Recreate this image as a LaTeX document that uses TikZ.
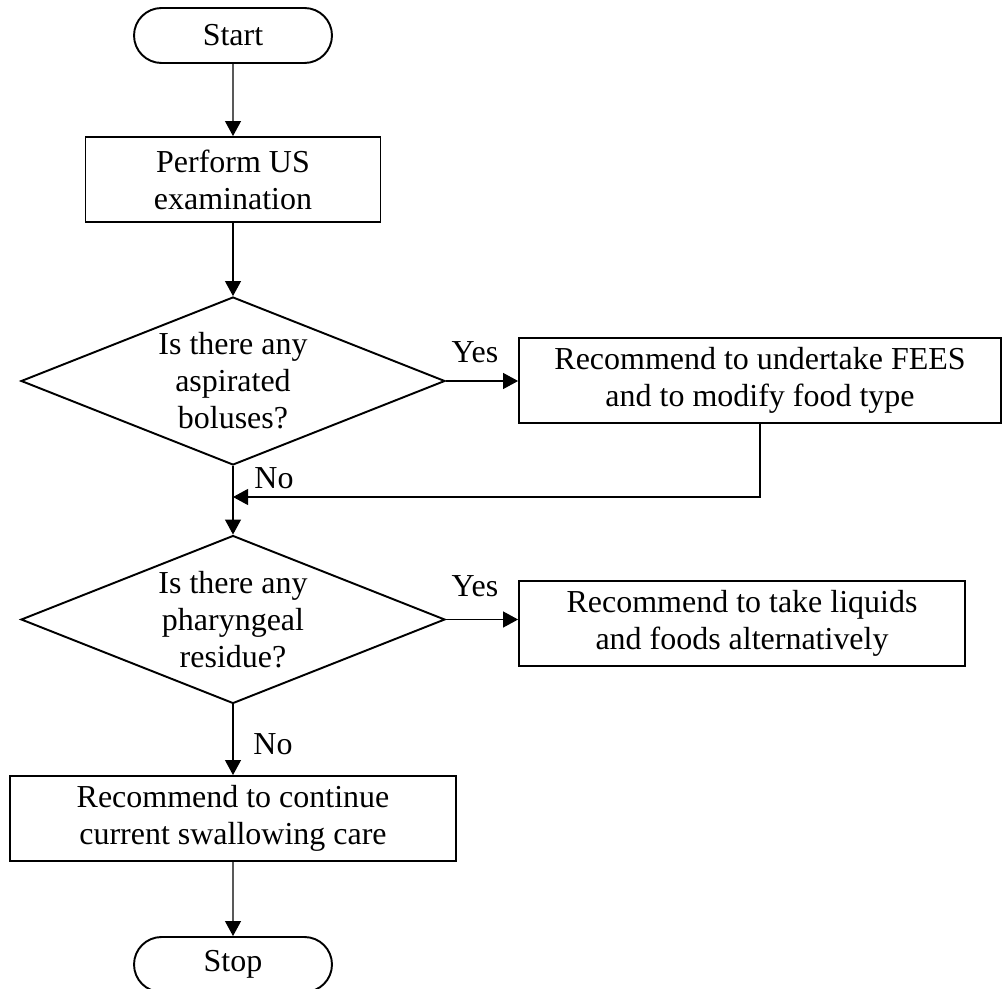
\documentclass[tikz,border=0pt]{standalone}
\usepackage{fontspec}
\setmainfont{Liberation Serif}
\usetikzlibrary{shapes.misc, shapes.geometric, arrows.meta, positioning}

\begin{document}
\begin{tikzpicture}[x=0.02cm, y=-0.02cm,
  every node/.style={font=\fontsize{18.2}{21}\selectfont},
  terminal/.style={draw, rounded rectangle, line width=1.1pt, minimum width=3.96cm, minimum height=1.1cm, inner sep=0pt},
  process/.style={draw, rectangle, line width=1.1pt, align=center, minimum height=1.7cm, inner sep=0pt},
  decision/.style={draw, diamond, line width=1.1pt, minimum width=8.48cm, minimum height=3.36cm, inner sep=0pt},
  qtext/.style={align=center},
  flow/.style={line width=0.6pt, -{Triangle[length=0.3cm, width=0.32cm]}}]
% --- FRAME: page size ---
\useasboundingbox (0,0) rectangle (1003,989);
\clip (0,0) rectangle (1003,989);

% LAYER 1: Main column
\node[terminal] (start) at (233,35.5) {Start};
\node[process, minimum width=5.9cm] (perform) at (233,179.5) {Perform US\\examination};
\node[decision, label={[qtext]center:Is there any\\aspirated\\boluses?}] (q1) at (233,381) {};
\node[decision, label={[qtext]center:Is there any\\pharyngeal\\residue?}] (q2) at (233,619.5) {};
\node[process, minimum width=8.92cm] (care) at (233,818.5) {Recommend to continue\\current swallowing care};
\node[terminal] (stop) at (233,964.5) {Stop};

% LAYER 2: Side recommendations
\node[process, minimum width=9.64cm] (fees) at (760,380.5) {Recommend to undertake FEES\\and to modify food type};
\node[process, minimum width=8.92cm] (liquids) at (742,623.5) {Recommend to take liquids\\and foods alternatively};

% LAYER 3: Answers
\node (yes1) at (475,352) {Yes};
\node (no1) at (274,478) {No};
\node (yes2) at (475,586) {Yes};
\node (no2) at (273,744) {No};

% LAYER 4: Connectors
\coordinate (join) at (233,497);
\draw[flow] (start) -- (perform);
\draw[flow] (perform) -- (q1);
\draw[flow] (q1.east) -- (fees.west |- q1.east);
\draw[flow] (fees.south) |- (join);
\draw[flow] (q1) -- (q2);
\draw[flow] (q2.east) -- (liquids.west |- q2.east);
\draw[flow] (q2) -- (care);
\draw[flow] (care) -- (stop);
\end{tikzpicture}
\end{document}
